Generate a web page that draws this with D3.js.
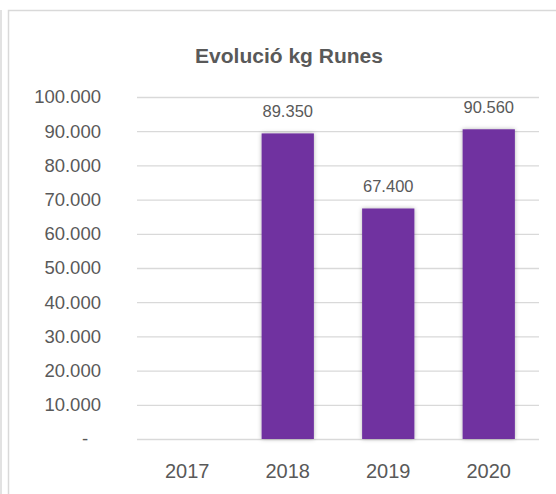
<!DOCTYPE html>
<html>
<head>
<meta charset="utf-8">
<script src="https://cdn.jsdelivr.net/npm/d3@7"></script>
<style>
  body { margin: 0; background: #fff; }
  svg { display: block; font-family: "Liberation Sans", Arial, sans-serif; }
</style>
</head>
<body>
<svg id="viz" width="556" height="494"></svg>
<script>
// Data
const years = ["2017", "2018", "2019", "2020"];
const kgRunes = [0, 89350, 67400, 90560];
const yTicks = [0, 10000, 20000, 30000, 40000, 50000, 60000, 70000, 80000, 90000, 100000];
const title = "Evolució kg Runes";

const svg = d3.select("#viz");
const textColor = "#595959";
const gridColor = "#d9d9d9";
const barColor = "#7030A0";

// Catalan number format: dot as thousands separator
const locale = d3.formatLocale({ decimal: ",", thousands: ".", grouping: [3], currency: ["", ""] });
const fmt = locale.format(",d");

const plot = { left: 137, right: 539, top: 97, bottom: 439 };

const x = d3.scaleBand()
    .domain(years)
    .range([plot.left, plot.right])
    .paddingInner(0.48)
    .paddingOuter(0.24);

const y = d3.scaleLinear()
    .domain([0, 100000])
    .range([plot.bottom, plot.top]);

// shadow for bars
const defs = svg.append("defs");
defs.append("filter")
    .attr("id", "shadow")
    .attr("x", "-30%").attr("y", "-10%")
    .attr("width", "160%").attr("height", "120%")
    .append("feDropShadow")
    .attr("dx", 0).attr("dy", 0)
    .attr("stdDeviation", 2.2)
    .attr("flood-color", "#000")
    .attr("flood-opacity", 0.3);

// outer frame lines
svg.append("line")
    .attr("x1", 1).attr("x2", 1).attr("y1", 10).attr("y2", 494)
    .attr("stroke", gridColor).attr("stroke-width", 1.5);
svg.append("path")
    .attr("d", "M8.5,494V10.5H556")
    .attr("fill", "none")
    .attr("stroke", gridColor).attr("stroke-width", 1.5);

// title
svg.append("text")
    .attr("x", 289).attr("y", 63)
    .attr("text-anchor", "middle")
    .attr("font-size", "21px")
    .attr("font-weight", "bold")
    .attr("fill", textColor)
    .text(title);

// y axis (gridlines + labels)
const yAxis = d3.axisLeft(y)
    .tickValues(yTicks)
    .tickSize(-(plot.right - plot.left))
    .tickPadding(36)
    .tickFormat(d => d === 0 ? "-" : fmt(d));

const gy = svg.append("g")
    .attr("transform", `translate(${plot.left},0)`)
    .call(yAxis);
gy.select(".domain").remove();
gy.selectAll(".tick line").attr("stroke", gridColor).attr("stroke-width", 1.3);
gy.selectAll(".tick text")
    .attr("fill", textColor)
    .attr("font-size", "18.5px")
    .attr("font-family", "Liberation Sans, Arial, sans-serif");
gy.selectAll(".tick text").filter(d => d === 0).attr("dx", "-0.7em");

// x axis labels
const xAxis = d3.axisBottom(x).tickSize(0).tickPadding(25);
const gx = svg.append("g")
    .attr("transform", `translate(0,${plot.bottom})`)
    .call(xAxis);
gx.select(".domain").remove();
gx.selectAll(".tick text")
    .attr("fill", textColor)
    .attr("font-size", "20px")
    .attr("font-family", "Liberation Sans, Arial, sans-serif");

// bars
const data = years.map((yr, i) => ({ year: yr, value: kgRunes[i] }));
const shown = data.filter(d => d.value > 0);

svg.append("g")
    .selectAll("rect")
    .data(shown)
    .join("rect")
    .attr("x", d => x(d.year))
    .attr("width", x.bandwidth())
    .attr("y", d => y(d.value))
    .attr("height", d => y(0) - y(d.value))
    .attr("fill", barColor)
    .attr("filter", "url(#shadow)");

// value labels
svg.append("g")
    .selectAll("text")
    .data(shown)
    .join("text")
    .attr("x", d => x(d.year) + x.bandwidth() / 2)
    .attr("y", d => y(d.value) - 16)
    .attr("text-anchor", "middle")
    .attr("font-size", "16.5px")
    .attr("fill", textColor)
    .text(d => fmt(d.value));
</script>
</body>
</html>
